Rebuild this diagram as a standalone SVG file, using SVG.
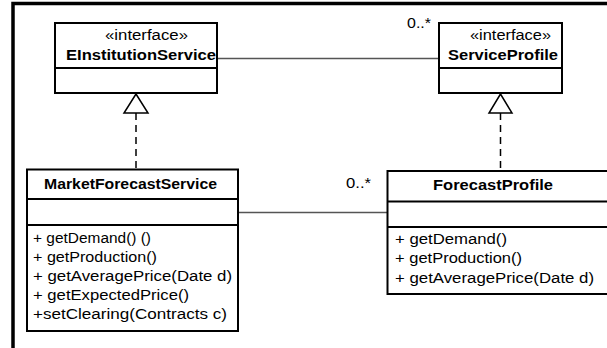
<svg xmlns="http://www.w3.org/2000/svg" width="607" height="348" viewBox="0 0 607 348">
  <style>
    text { font-family: "Liberation Sans", Arial, sans-serif; font-size: 14px; fill: #000; }
    .b { font-weight: bold; font-size: 14px; }
    .box { fill: #fff; stroke: #000; stroke-width: 2; }
    .div { stroke: #000; stroke-width: 2; }
    .assoc { stroke: #555; stroke-width: 1.5; fill: none; }
    .real { stroke: #000; stroke-width: 1.5; stroke-dasharray: 7 5; fill: none; }
    .tri { fill: #fff; stroke: #000; stroke-width: 1.5; }
    .frame { stroke: #000; stroke-width: 3.5; fill: none; }
  </style>

  <rect width="607" height="348" fill="#fff"/>

  <!-- diagram frame -->
  <path class="frame" d="M13 348 V3.5 H607"/>

  <!-- connectors -->
  <g id="connectors">
    <line class="assoc" x1="217" y1="58.5" x2="439" y2="58.5"/>
    <text x="407" y="28" textLength="24" lengthAdjust="spacingAndGlyphs">0..*</text>
    <line class="assoc" x1="238" y1="212.5" x2="387" y2="212.5"/>
    <text x="346" y="188" textLength="25" lengthAdjust="spacingAndGlyphs">0..*</text>
    <line class="real" x1="136" y1="113" x2="136" y2="169"/>
    <polygon class="tri" points="136,94 124,113 148,113"/>
    <line class="real" x1="500.5" y1="113" x2="500.5" y2="171"/>
    <polygon class="tri" points="500.5,94 489,113 512,113"/>
  </g>

  <g id="EInstitutionService">
    <rect class="box" x="55" y="23" width="162" height="70"/>
    <line class="div" x1="55" y1="68" x2="217" y2="68"/>
    <text x="105" y="40" textLength="83" lengthAdjust="spacingAndGlyphs">«interface»</text>
    <text class="b" x="66" y="60" textLength="150" lengthAdjust="spacingAndGlyphs">EInstitutionService</text>
  </g>

  <g id="ServiceProfile">
    <rect class="box" x="439" y="23" width="123" height="70"/>
    <line class="div" x1="439" y1="68" x2="562" y2="68"/>
    <text x="470" y="40" textLength="81" lengthAdjust="spacingAndGlyphs">«interface»</text>
    <text class="b" x="448" y="60" textLength="110" lengthAdjust="spacingAndGlyphs">ServiceProfile</text>
  </g>

  <g id="MarketForecastService">
    <rect class="box" x="27" y="169.5" width="211" height="161.5"/>
    <line class="div" x1="27" y1="199" x2="238" y2="199"/>
    <line class="div" x1="27" y1="225" x2="238" y2="225"/>
    <text class="b" x="44" y="189" textLength="173" lengthAdjust="spacingAndGlyphs">MarketForecastService</text>
    <text x="33" y="243" textLength="118" lengthAdjust="spacingAndGlyphs">+ getDemand() ()</text>
    <text x="33" y="262" textLength="124" lengthAdjust="spacingAndGlyphs">+ getProduction()</text>
    <text x="33" y="281" textLength="199" lengthAdjust="spacingAndGlyphs">+ getAveragePrice(Date d)</text>
    <text x="33" y="300" textLength="156" lengthAdjust="spacingAndGlyphs">+ getExpectedPrice()</text>
    <text x="33" y="319" textLength="194" lengthAdjust="spacingAndGlyphs">+setClearing(Contracts c)</text>
  </g>

  <g id="ForecastProfile">
    <rect class="box" x="387.5" y="171" width="230" height="123"/>
    <line class="div" x1="387.5" y1="201.5" x2="607" y2="201.5"/>
    <line class="div" x1="387.5" y1="227" x2="607" y2="227"/>
    <text class="b" x="433" y="190" textLength="120" lengthAdjust="spacingAndGlyphs">ForecastProfile</text>
    <text x="395" y="244" textLength="112" lengthAdjust="spacingAndGlyphs">+ getDemand()</text>
    <text x="395" y="263" textLength="127" lengthAdjust="spacingAndGlyphs">+ getProduction()</text>
    <text x="395" y="283" textLength="199" lengthAdjust="spacingAndGlyphs">+ getAveragePrice(Date d)</text>
  </g>
</svg>
